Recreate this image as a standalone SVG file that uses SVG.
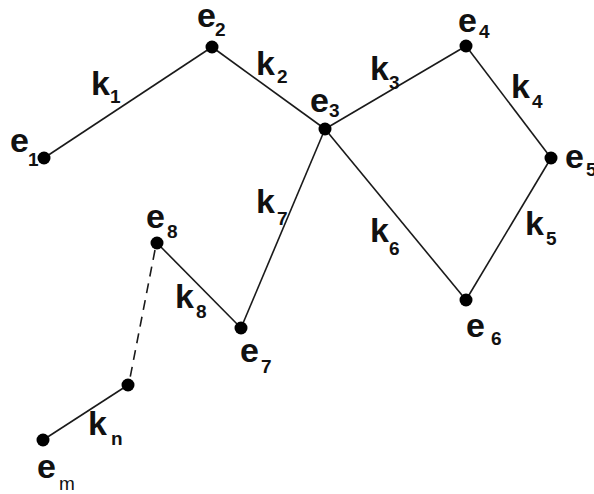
<svg xmlns="http://www.w3.org/2000/svg" width="594" height="494" viewBox="0 0 594 494">
<style>
.edge{stroke:#1a1a1a;stroke-width:1.6;fill:none}
.dash{stroke-dasharray:10 7}
.dot{fill:#000}
.m{font-family:"Liberation Sans",Arial,sans-serif;font-weight:bold;font-size:34px;fill:#111}
.s{font-family:"Liberation Sans",Arial,sans-serif;font-weight:bold;font-size:19px;fill:#111}
.sm{font-weight:normal}
</style>
<rect width="594" height="494" fill="#fff"/>
<g id="connectors">
<line class="edge" x1="44" y1="158" x2="212" y2="47"/>
<line class="edge" x1="212" y1="47" x2="325" y2="129"/>
<line class="edge" x1="325" y1="129" x2="466" y2="46"/>
<line class="edge" x1="466" y1="46" x2="551" y2="158"/>
<line class="edge" x1="551" y1="158" x2="466" y2="300"/>
<line class="edge" x1="325" y1="129" x2="466" y2="300"/>
<line class="edge" x1="325" y1="129" x2="241" y2="328"/>
<line class="edge" x1="157" y1="243" x2="241" y2="328"/>
<line class="edge dash" x1="155" y1="250" x2="130" y2="378"/>
<line class="edge" x1="128" y1="385" x2="43" y2="440"/>
<text class="m" x="91" y="95">k<tspan class="s" x="110" y="103">1</tspan></text>
<text class="m" x="256" y="75">k<tspan class="s" x="277" y="83">2</tspan></text>
<text class="m" x="370" y="80">k<tspan class="s" x="389" y="89">3</tspan></text>
<text class="m" x="511" y="98">k<tspan class="s" x="532" y="108">4</tspan></text>
<text class="m" x="525" y="235">k<tspan class="s" x="546" y="245">5</tspan></text>
<text class="m" x="370" y="242">k<tspan class="s" x="389" y="255">6</tspan></text>
<text class="m" x="256" y="213">k<tspan class="s" x="277" y="225">7</tspan></text>
<text class="m" x="175" y="308">k<tspan class="s" x="196" y="318">8</tspan></text>
<text class="m" x="88" y="435">k<tspan class="s" x="111" y="445">n</tspan></text>
</g>
<g id="e1"><circle class="dot" cx="44" cy="158" r="6.5"/><text class="m" x="10" y="152">e<tspan class="s" x="28" y="166">1</tspan></text></g>
<g id="e2"><circle class="dot" cx="212" cy="47" r="6.5"/><text class="m" x="197" y="27">e<tspan class="s" x="215" y="36">2</tspan></text></g>
<g id="e3"><circle class="dot" cx="325" cy="129" r="6.5"/><text class="m" x="310" y="112">e<tspan class="s" x="329" y="117">3</tspan></text></g>
<g id="e4"><circle class="dot" cx="466" cy="46" r="6.5"/><text class="m" x="458" y="32">e<tspan class="s" x="479" y="38">4</tspan></text></g>
<g id="e5"><circle class="dot" cx="551" cy="158" r="6.5"/><text class="m" x="565" y="168">e<tspan class="s" x="586" y="176">5</tspan></text></g>
<g id="e6"><circle class="dot" cx="466" cy="300" r="6.5"/><text class="m" x="466" y="337">e<tspan class="s" x="491" y="345">6</tspan></text></g>
<g id="e7"><circle class="dot" cx="241" cy="328" r="6.5"/><text class="m" x="240" y="362">e<tspan class="s" x="261" y="373">7</tspan></text></g>
<g id="e8"><circle class="dot" cx="157" cy="243" r="6.5"/><text class="m" x="146" y="228">e<tspan class="s" x="167" y="238">8</tspan></text></g>
<g id="en"><circle class="dot" cx="128" cy="385" r="6.5"/></g>
<g id="em"><circle class="dot" cx="43" cy="440" r="6.5"/><text class="m" x="37" y="478">e<tspan class="s sm" x="59" y="490">m</tspan></text></g>
</svg>
